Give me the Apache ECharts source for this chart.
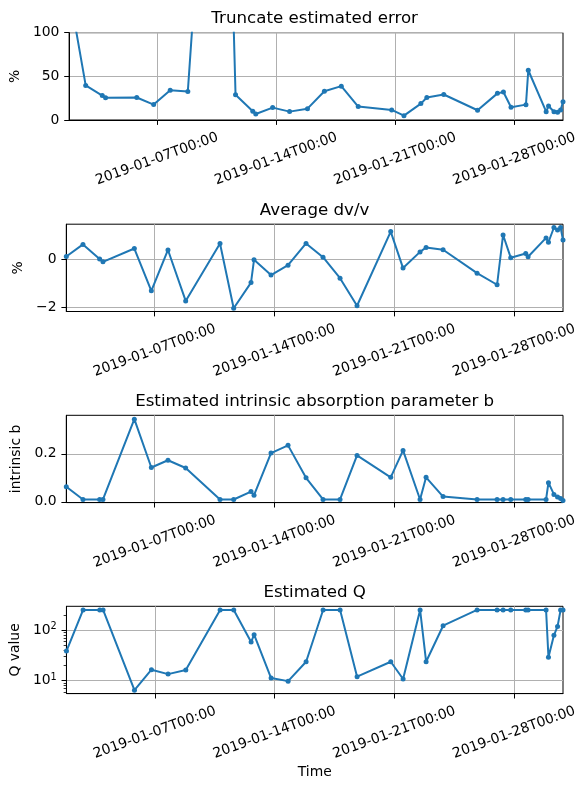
<!DOCTYPE html>
<html><head><meta charset="utf-8">
<script src="https://cdn.jsdelivr.net/npm/echarts@6/dist/echarts.min.js"></script>
<style>html,body{margin:0;padding:0;background:#fff}#c{width:586px;height:790px}</style>
</head><body><div id="c"></div>
<script>
// ---- data (UTC times) ----
const times = [
  '2019-01-01T20:05','2019-01-02T19:28','2019-01-03T18:50','2019-01-03T23:30','2019-01-05T19:30',
  '2019-01-06T19:20','2019-01-07T18:40','2019-01-08T19:30','2019-01-10T19:38','2019-01-11T14:48',
  '2019-01-12T15:07','2019-01-12T19:20','2019-01-13T19:10','2019-01-14T19:02','2019-01-15T20:17',
  '2019-01-16T20:07','2019-01-17T19:58','2019-01-18T19:48','2019-01-20T19:02','2019-01-21T12:20',
  '2019-01-22T12:11','2019-01-22T20:36','2019-01-23T20:27','2019-01-25T20:08','2019-01-27T00:11',
  '2019-01-27T08:36','2019-01-27T19:20','2019-01-28T16:23','2019-01-28T19:40','2019-01-29T20:53',
  '2019-01-30T00:14','2019-01-30T07:55','2019-01-30T13:00','2019-01-30T17:17','2019-01-30T20:38'
];
const truncErr = [148, 39.6, 28, 25.4, 25.8, 17.7, 34.2, 32.7, 600, 29,
  10, 6.9, 14.2, 9.6, 13, 33, 38.8, 15.4, 11.5, 5,
  18.8, 25.8, 29.2, 11.2, 30.5, 32, 14.6, 17.6, 57, 9.5,
  16, 9.5, 9.0, 11.5, 21];
const dvv = [0.11, 0.61, 0.01, -0.11, 0.44, -1.31, 0.38, -1.73, 0.65, -2.03,
  -0.97, -0.03, -0.66, -0.25, 0.65, 0.08, -0.79, -1.93, 1.14, -0.37,
  0.30, 0.48, 0.39, -0.58, -1.06, 1.0, 0.06, 0.23, 0.1, 0.88,
  0.70, 1.31, 1.21, 1.31, 0.79];
const bParam = [0.063, 0.01, 0.01, 0.01, 0.344, 0.143, 0.173, 0.141, 0.01, 0.01,
  0.043, 0.028, 0.203, 0.235, 0.10, 0.01, 0.01, 0.193, 0.102, 0.214,
  0.01, 0.102, 0.022, 0.01, 0.01, 0.01, 0.01, 0.01, 0.01, 0.01,
  0.08, 0.031, 0.02, 0.014, 0.006];
const qValue = [38.5, 250, 250, 250, 6.5, 16.5, 13.5, 16.3, 250, 250,
  58, 81, 11.3, 9.8, 23.7, 250, 250, 12, 23.7, 10.8,
  250, 23.7, 122, 250, 250, 250, 250, 250, 250, 250,
  29, 79, 118, 250, 250];
const xTicks = ['2019-01-07T00:00','2019-01-14T00:00','2019-01-21T00:00','2019-01-28T00:00'];
const errTicks = [0, 50, 100];
const dvvTicks = [-2, 0];
const bTicks = [0, 0.2];
const qTicks = [10, 100];
const qMinorTicks = [6,7,8,9,20,30,40,50,60,70,80,90,200];
const titles = ['Truncate estimated error','Average dv/v','Estimated intrinsic absorption parameter b','Estimated Q'];
const yNames = ['%','%','intrinsic b','Q value'];

// ---- layout / style ----
const FONT = 'DejaVu Sans';
const BLUE = '#1f77b4';
const GRIDC = '#b0b0b0';
const L = 66.3, W = 496.7, H = 87.3;
const tops = [32.7, 224.2, 415.3, 606.3];
const nameGaps = [41, 35, 37, 37];
const yRanges = [[0, 100], [-2.167, 1.446], [-0.003, 0.36], [5.56, 295]];
const yTickSets = [errTicks, dvvTicks, bTicks, qTicks];

const ts = times.map(s => Date.parse(s + ':00Z'));
const xTickVals = xTicks.map(s => Date.parse(s + ':00Z'));
const tMin = ts[0], tMax = ts[ts.length - 1];
const pad = n => String(n).padStart(2, '0');
const fmtTime = v => { const d = new Date(v); return d.getUTCFullYear() + '-' + pad(d.getUTCMonth()+1) + '-' + pad(d.getUTCDate()) + 'T' + pad(d.getUTCHours()) + ':' + pad(d.getUTCMinutes()); };
const seriesVals = [truncErr, dvv, bParam, qValue];
const yFormatters = [
  v => String(v),
  v => String(v).replace('-', '\u2212'),
  v => v.toFixed(1),
  v => '{b|10}{s|' + Math.round(Math.log10(v)) + '}'
];

const grid = [], xAxis = [], yAxis = [], series = [], title = [];
for (let i = 0; i < 4; i++) {
  grid.push({ left: L, top: tops[i], width: W, height: H, show: true, borderColor: '#000', borderWidth: 1, containLabel: false });
  title.push({ text: titles[i], left: L + W / 2, top: tops[i] - 22.5, textAlign: 'center', padding: 0,
    textStyle: { fontFamily: FONT, fontSize: 16.67, fontWeight: 'normal', color: '#000' } });
  const xa = {
    type: 'value', gridIndex: i, min: tMin, max: tMax, scale: true,
    axisLine: { show: true, onZero: false, lineStyle: { color: '#000', width: 1 } },
    axisTick: { show: true, customValues: xTickVals, length: 4.9, lineStyle: { color: '#000', width: 1 } },
    axisLabel: { customValues: xTickVals, rotate: 20, align: 'center', verticalAlign: 'middle', margin: 39,
      formatter: fmtTime, fontFamily: FONT, fontSize: 13.9, color: '#000' },
    splitLine: { show: true, lineStyle: { color: GRIDC, width: 1 } }
  };
  if (i === 3) { xa.name = 'Time'; xa.nameLocation = 'middle'; xa.nameGap = 72;
    xa.nameTextStyle = { fontFamily: FONT, fontSize: 13.9, color: '#000' }; }
  xAxis.push(xa);
  yAxis.push({
    type: i === 3 ? 'log' : 'value', logBase: 10, gridIndex: i, position: 'left',
    min: yRanges[i][0], max: yRanges[i][1],
    name: yNames[i], nameLocation: 'middle', nameRotate: 90, nameGap: nameGaps[i],
    nameTextStyle: { fontFamily: FONT, fontSize: 13.9, color: '#000' },
    axisLine: { show: true, onZero: false, lineStyle: { color: '#000', width: 1 } },
    axisTick: { show: true, customValues: yTickSets[i], length: 4.9, lineStyle: { color: '#000', width: 1 } },
    axisLabel: { customValues: yTickSets[i], margin: 9.7, formatter: yFormatters[i], fontFamily: FONT, fontSize: 13.9, color: '#000',
      rich: { b: { fontFamily: FONT, fontSize: 13.9, color: '#000', lineHeight: 17 },
              s: { fontFamily: FONT, fontSize: 9.7, color: '#000', lineHeight: 11, verticalAlign: 'top' } } },
    splitLine: { show: true, lineStyle: { color: GRIDC, width: 1 } },
    minorTick: { show: false }, minorSplitLine: { show: false }
  });
  series.push({
    type: 'line', xAxisIndex: i, yAxisIndex: i, clip: true,
    data: ts.map((t, k) => [t, seriesVals[i][k]]),
    symbol: 'circle', symbolSize: 5, showSymbol: true,
    lineStyle: { color: BLUE, width: 2 }, itemStyle: { color: BLUE },
    emphasis: { disabled: true }, animation: false
  });
}
// minor ticks for the log axis
yAxis.push({
  type: 'log', logBase: 10, gridIndex: 3, position: 'left', min: yRanges[3][0], max: yRanges[3][1],
  axisLine: { show: false },
  axisTick: { show: true, customValues: qMinorTicks, length: 2.8, lineStyle: { color: '#000', width: 0.8 } },
  axisLabel: { show: false }, splitLine: { show: false }
});

const chart = echarts.init(document.getElementById('c'), null, { renderer: 'canvas' });
chart.setOption({ animation: false, backgroundColor: '#fff', title, grid, xAxis, yAxis, series });
</script></body></html>
